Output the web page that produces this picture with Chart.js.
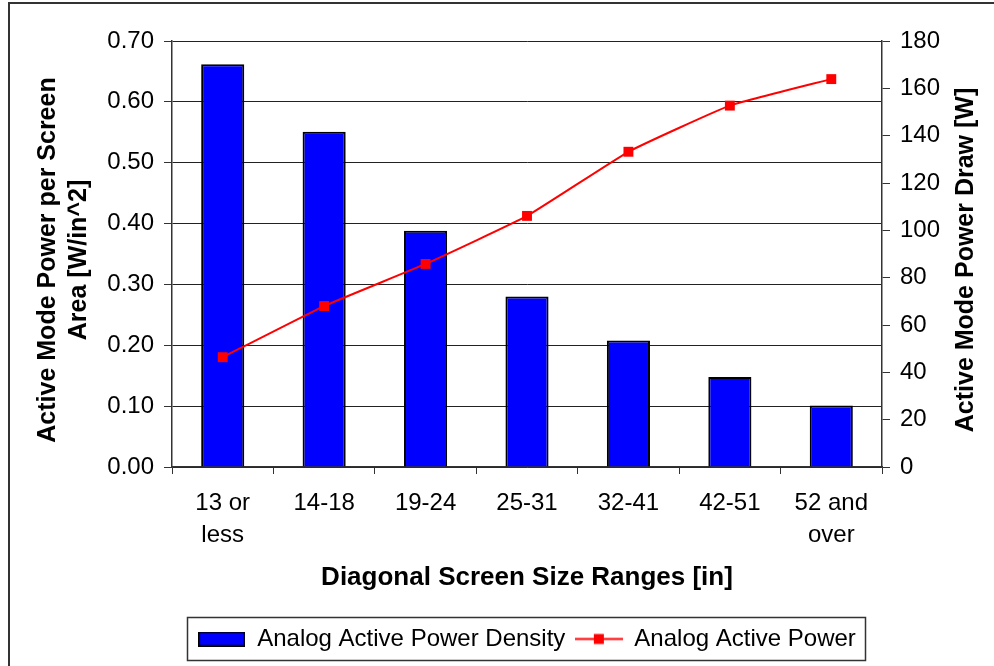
<!DOCTYPE html>
<html>
<head>
<meta charset="utf-8">
<title>Analog Active Power by Screen Size</title>
<script src="https://cdn.jsdelivr.net/npm/chart.js@4.4.1/dist/chart.umd.min.js"></script>
<style>
  html, body { margin: 0; padding: 0; background: #fff; }
  #wrap { width: 994px; height: 666px; }
</style>
</head>
<body>
<div id="wrap"><canvas id="chart" width="994" height="666"></canvas></div>
<script>
// Screen-size categories (two-line labels)
const categories = [["13 or", "less"], ["14-18"], ["19-24"], ["25-31"], ["32-41"], ["42-51"], ["52 and", "over"]];

// Active power density per screen area [W/in^2]
const powerDensity = [0.662, 0.551, 0.388, 0.280, 0.208, 0.148, 0.101];

// Active mode power draw [W]
const powerDraw = [46.4, 68.0, 85.8, 106.1, 133.2, 152.7, 163.9];

const seriesNames = ["Analog Active Power Density", "Analog Active Power"];

const leftTicks = { min: 0, max: 0.7, step: 0.1 };
const rightTicks = { min: 0, max: 180, step: 20 };

const leftTitle = ['Active Mode Power per Screen', 'Area [W/in^2]'];
const rightTitle = 'Active Mode Power Draw [W]';
const xTitle = 'Diagonal Screen Size Ranges [in]';

const FONT = '"Liberation Sans", Arial, Helvetica, sans-serif';
const BLUE = '#0000FF';
const RED = '#FF0000';

// Legend swatches: filled box for the bars, line with square marker for the series line
function makeBarSwatch() {
  const c = document.createElement('canvas');
  c.width = 47; c.height = 15;
  const g = c.getContext('2d');
  g.fillStyle = BLUE;
  g.fillRect(0, 0, 47, 15);
  g.strokeStyle = '#000';
  g.lineWidth = 1.5;
  g.strokeRect(0.75, 0.75, 45.5, 13.5);
  return c;
}
function makeLineSwatch() {
  const c = document.createElement('canvas');
  c.width = 48; c.height = 15;
  const g = c.getContext('2d');
  g.strokeStyle = RED;
  g.lineWidth = 2;
  g.beginPath();
  g.moveTo(0, 7.5); g.lineTo(48, 7.5);
  g.stroke();
  g.fillStyle = RED;
  g.fillRect(19, 2.5, 10, 10);
  return c;
}
const barSwatch = makeBarSwatch();
const lineSwatch = makeLineSwatch();

// White background with a frame round the whole chart
const framePlugin = {
  id: 'frame',
  beforeDraw(chart) {
    const ctx = chart.ctx;
    ctx.save();
    ctx.fillStyle = '#fff';
    ctx.fillRect(0, 0, chart.width, chart.height);
    ctx.strokeStyle = '#333';
    ctx.lineWidth = 2;
    ctx.strokeRect(9, 3, chart.width + 20, chart.height + 20);
    ctx.restore();
  }
};

// Border round the legend items
const legendBoxPlugin = {
  id: 'legendBox',
  afterDraw(chart) {
    const lg = chart.legend;
    if (!lg || !lg.legendHitBoxes || !lg.legendHitBoxes.length) return;
    const boxes = lg.legendHitBoxes;
    let minX = Infinity, maxX = -Infinity;
    boxes.forEach(b => { minX = Math.min(minX, b.left); maxX = Math.max(maxX, b.left + b.width); });
    const ctx = chart.ctx;
    ctx.save();
    ctx.strokeStyle = '#333';
    ctx.lineWidth = 1.5;
    const x0 = Math.round(minX - 11) + 0.5;
    const x1 = Math.round(maxX + 9) + 0.5;
    const y0 = Math.round(lg.top) + 0.5;
    const y1 = Math.round(lg.bottom - 1) + 0.5;
    ctx.strokeRect(x0, y0, x1 - x0, y1 - y0);
    ctx.restore();
  }
};

// Both value-axis titles read bottom-to-top, centred on the plot height
const axisTitlePlugin = {
  id: 'axisTitles',
  afterDraw(chart) {
    const ctx = chart.ctx;
    const area = chart.chartArea;
    const cy = (area.top + area.bottom) / 2 + 6;
    ctx.save();
    ctx.fillStyle = '#000';
    ctx.font = 'bold 25px ' + FONT;
    ctx.textAlign = 'center';
    ctx.textBaseline = 'middle';
    const yScale = chart.scales.y;
    const y1Scale = chart.scales.y1;
    const lx = [yScale.left + 38, yScale.left + 69];
    leftTitle.forEach((t, i) => {
      ctx.save();
      ctx.translate(lx[i], cy);
      ctx.rotate(-Math.PI / 2);
      ctx.fillText(t, 0, 0);
      ctx.restore();
    });
    ctx.save();
    ctx.translate(y1Scale.right - 28, cy);
    ctx.rotate(-Math.PI / 2);
    ctx.fillText(rightTitle, 0, 0);
    ctx.restore();
    ctx.restore();
  }
};

new Chart(document.getElementById('chart'), {
  data: {
    labels: categories,
    datasets: [
      {
        type: 'bar',
        label: seriesNames[0],
        data: powerDensity,
        yAxisID: 'y',
        backgroundColor: BLUE,
        borderColor: '#000',
        borderWidth: 2,
        borderSkipped: 'start',
        barPercentage: 0.425,
        categoryPercentage: 1.0,
        order: 1
      },
      {
        type: 'line',
        label: seriesNames[1],
        data: powerDraw,
        yAxisID: 'y1',
        borderColor: RED,
        borderWidth: 2,
        backgroundColor: RED,
        pointStyle: 'rect',
        pointRadius: 7,
        pointBackgroundColor: RED,
        pointBorderColor: RED,
        pointBorderWidth: 0,
        tension: 0.12,
        fill: false,
        order: 0
      }
    ]
  },
  options: {
    responsive: false,
    animation: false,
    layout: { padding: { left: 10, right: 0, top: 41, bottom: 5 } },
    plugins: {
      tooltip: { enabled: false },
      legend: {
        position: 'bottom',
        fullSize: false,
        labels: {
          font: { family: FONT, size: 24 },
          color: '#000',
          padding: 10,
          usePointStyle: true,
          pointStyleWidth: 47,
          boxHeight: 15,
          generateLabels: () => [
            { text: seriesNames[0], pointStyle: barSwatch, datasetIndex: 0, hidden: false, lineWidth: 0, fillStyle: BLUE, strokeStyle: '#000', fontColor: '#000' },
            { text: seriesNames[1], pointStyle: lineSwatch, datasetIndex: 1, hidden: false, lineWidth: 0, fillStyle: RED, strokeStyle: RED, fontColor: '#000' }
          ]
        }
      }
    },
    scales: {
      x: {
        type: 'category',
        offset: true,
        afterFit: (s) => { s.height = 150; },
        grid: { display: true, drawOnChartArea: false, offset: true, tickLength: 7, color: '#333', lineWidth: 1 },
        border: { display: true, color: '#333', width: 1.5 },
        ticks: { font: { family: FONT, size: 24, lineHeight: 1.33 }, color: '#000', padding: 13, maxRotation: 0, autoSkip: false },
        title: {
          display: true,
          text: xTitle,
          font: { family: FONT, size: 26, weight: 'bold', lineHeight: 1.2 },
          color: '#000',
          padding: { top: 0, bottom: 24 }
        }
      },
      y: {
        position: 'left',
        min: leftTicks.min,
        max: leftTicks.max,
        afterFit: (s) => { s.width = 162; },
        grid: { color: '#222', lineWidth: 1, tickLength: 8, tickColor: '#333' },
        border: { display: true, color: '#333', width: 1.5 },
        ticks: {
          stepSize: leftTicks.step,
          font: { family: FONT, size: 24 },
          color: '#000',
          padding: 10,
          callback: (v) => Number(v).toFixed(2)
        },
        title: { display: false }
      },
      y1: {
        position: 'right',
        min: rightTicks.min,
        max: rightTicks.max,
        afterFit: (s) => { s.width = 112; },
        grid: { drawOnChartArea: false, tickLength: 8, color: '#333' },
        border: { display: true, color: '#333', width: 1.5 },
        ticks: {
          stepSize: rightTicks.step,
          font: { family: FONT, size: 24 },
          color: '#000',
          padding: 10
        },
        title: { display: false }
      }
    }
  },
  plugins: [framePlugin, legendBoxPlugin, axisTitlePlugin]
});
</script>
</body>
</html>
